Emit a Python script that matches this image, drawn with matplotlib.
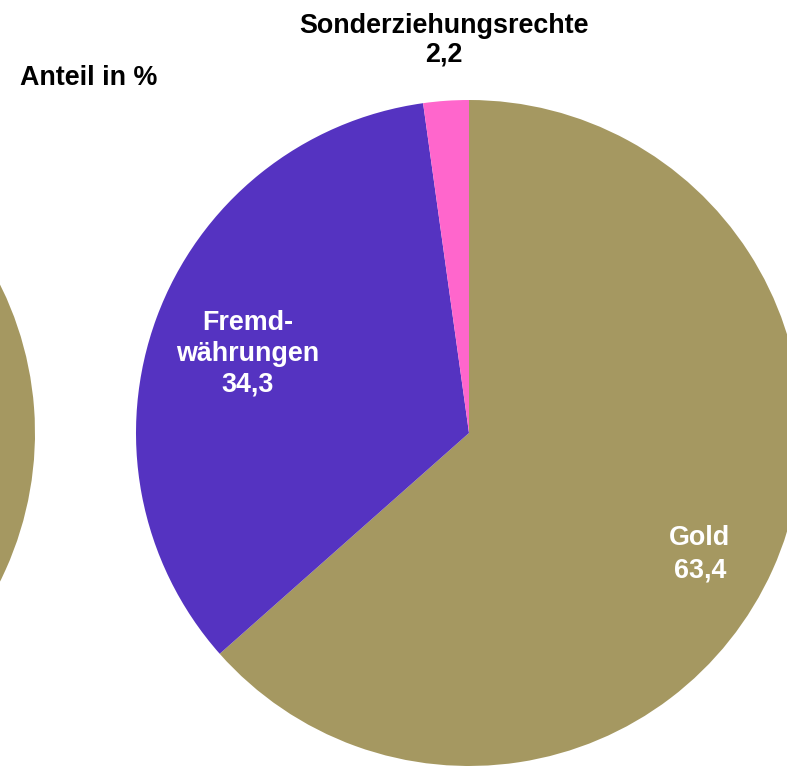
import matplotlib.pyplot as plt

# Anteil in %
labels = ['Gold', 'Fremd-\nwährungen', 'Sonderziehungsrechte']
values = [63.4, 34.3, 2.2]
value_text = ['63,4', '34,3', '2,2']
# Vorjahr (links angeschnitten, nur Gold-Teil sichtbar)
left_values = [63.4, 34.3, 2.2]

colors = ['#A59861', '#5533C1', '#FF66CC']

plt.rcParams['font.family'] = ['Liberation Sans', 'DejaVu Sans']

fig = plt.figure(figsize=(7.87, 7.66), dpi=100)
ax = fig.add_axes([0, 0, 1, 1])

ax.pie(left_values, colors=colors, startangle=90, counterclock=False,
       center=(-298, 333), radius=333, wedgeprops={'linewidth': 0})
ax.pie(values, colors=colors, startangle=90, counterclock=False,
       center=(469, 333), radius=333, wedgeprops={'linewidth': 0})

ax.set_xlim(0, 787)
ax.set_ylim(0, 766)
ax.set_aspect('equal')
ax.axis('off')

fs = 19.4
ax.text(20, 688, 'Anteil in %', fontsize=fs, fontweight='bold', ha='left', va='center')
ax.text(444, 726, labels[2] + '\n' + value_text[2], fontsize=fs, fontweight='bold',
        ha='center', va='center', linespacing=1.1)
ax.text(248, 412, labels[1] + '\n' + value_text[1], fontsize=fs, fontweight='bold',
        color='white', ha='center', va='center', linespacing=1.25)
ax.text(700, 212, labels[0] + '\n' + value_text[0], fontsize=fs, fontweight='bold',
        color='white', ha='center', va='center', linespacing=1.32)

fig.savefig('out.png', dpi=100)
